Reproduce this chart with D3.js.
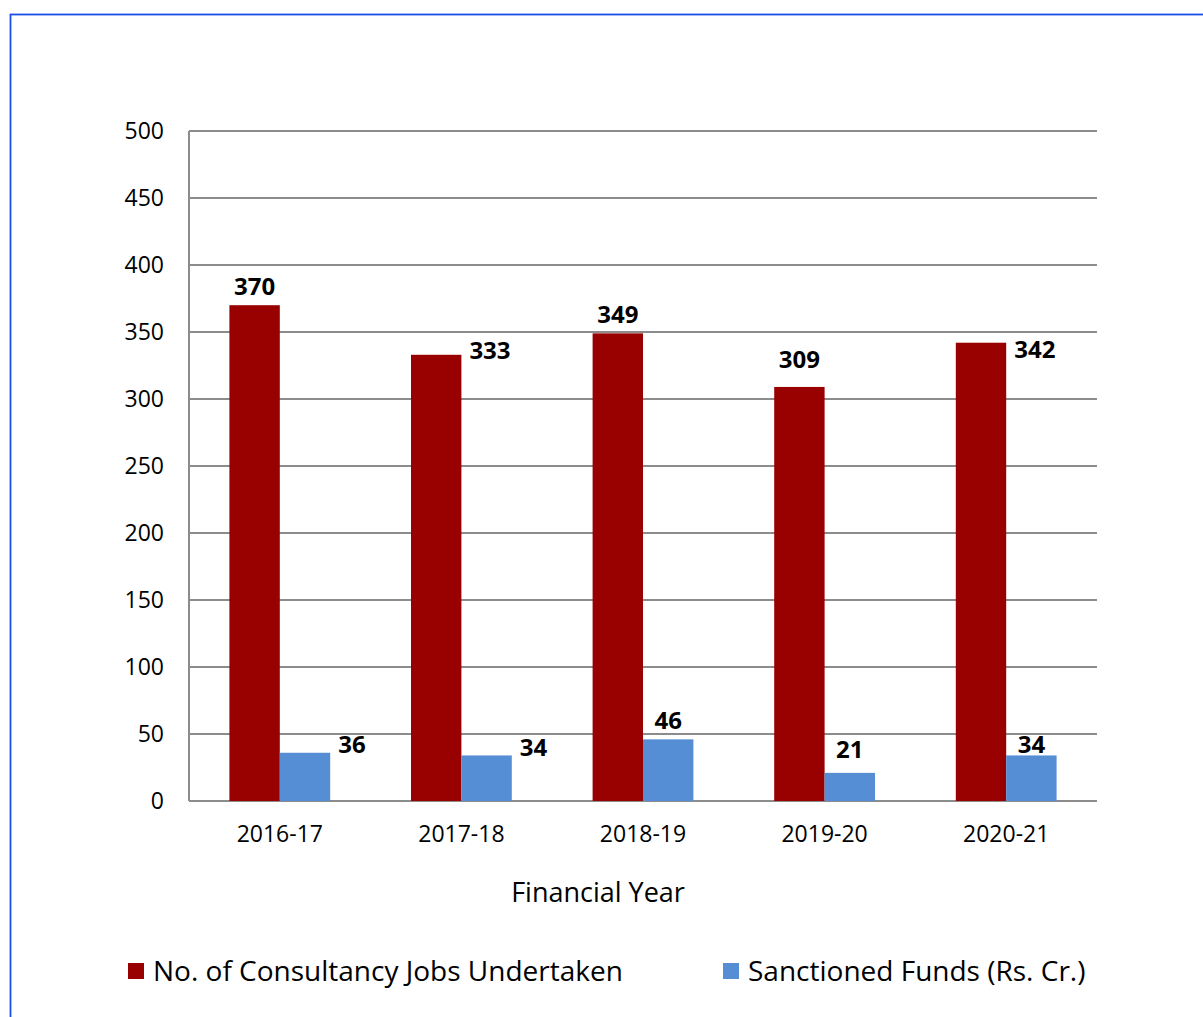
<!doctype html>
<html>
	<head>
		<script src="https://d3js.org/d3.v7.min.js"></script>
		<style>
			body { margin: 0; background: #fff; }
			text { font-family: "Open Sans", "Noto Sans", sans-serif; fill: #000; }
		</style>
	</head>
	<body>
		<div id="chart"></div>
		<script>
            const years = ["2016-17", "2017-18", "2018-19", "2019-20", "2020-21"];
            const jobs = [370, 333, 349, 309, 342];
            const funds = [36, 34, 46, 21, 34];
            const yTicks = [0, 50, 100, 150, 200, 250, 300, 350, 400, 450, 500];
            const seriesNames = ["No. of Consultancy Jobs Undertaken", "Sanctioned Funds (Rs. Cr.)"];
            const colors = ["#990000", "#558ed5"];
            // where each value label sits: "top" above the bar, "right" beside its top,
            // plus a small vertical nudge (px) as placed in the original
            const jobsLabelPos = ["top", "right", "top", "top", "right"];
            const fundsLabelPos = ["right", "right", "top", "top", "top"];
            const jobsLabelNudge = [-19, -4, -19, -27, 7];
            const fundsLabelNudge = [-8, -8, -19, -23, -11];

            const width = 1203, height = 1017;
            const plotLeft = 189, plotRight = 1097, plotTop = 131, plotBottom = 801;

            const svg = d3.select("#chart")
                .append("svg")
                .attr("width", width)
                .attr("height", height);

            // outer frame
            svg.append("rect")
                .attr("x", 10.5)
                .attr("y", 14.5)
                .attr("width", 1300)
                .attr("height", 1100)
                .attr("fill", "none")
                .attr("stroke", "#1a4fe6")
                .attr("stroke-width", 1.8);

            const x = d3.scaleBand().domain(years).range([plotLeft, plotRight]).paddingInner(0.445).paddingOuter(0.2225);
            const y = d3.scaleLinear().domain([0, 500]).range([plotBottom, plotTop]);
            const sub = d3.scaleBand().domain([0, 1]).range([0, x.bandwidth()]);

            svg.selectAll("line.grid")
                .data(yTicks)
                .enter().append("line")
                .attr("class", "grid")
                .attr("x1", plotLeft)
                .attr("x2", plotRight)
                .attr("y1", function (d) { return y(d); })
                .attr("y2", function (d) { return y(d); })
                .attr("stroke", "#8c8c8c")
                .attr("stroke-width", 2);

            svg.append("line")
                .attr("x1", plotLeft)
                .attr("x2", plotLeft)
                .attr("y1", plotTop)
                .attr("y2", plotBottom)
                .attr("stroke", "#8c8c8c")
                .attr("stroke-width", 2);

            svg.selectAll("text.ytick")
                .data(yTicks)
                .enter().append("text")
                .attr("class", "ytick")
                .attr("x", 164)
                .attr("y", function (d) { return y(d); })
                .attr("dy", "0.35em")
                .attr("text-anchor", "end")
                .attr("font-size", 23)
                .text(String);

            svg.selectAll("text.xtick")
                .data(years)
                .enter().append("text")
                .attr("class", "xtick")
                .attr("x", function (d) { return x(d) + x.bandwidth() / 2; })
                .attr("y", 834)
                .attr("dy", "0.35em")
                .attr("text-anchor", "middle")
                .attr("font-size", 23)
                .text(String);

            const series = [jobs, funds];
            const labelPos = [jobsLabelPos, fundsLabelPos];
            const labelNudge = [jobsLabelNudge, fundsLabelNudge];

            series.forEach(function (vals, s) {
                svg.selectAll("rect.s" + s)
                    .data(vals)
                    .enter().append("rect")
                    .attr("class", "s" + s)
                    .attr("x", function (d, i) { return x(years[i]) + sub(s); })
                    .attr("y", function (d) { return y(d); })
                    .attr("width", sub.bandwidth())
                    .attr("height", function (d) { return y(0) - y(d); })
                    .attr("fill", colors[s]);

                svg.selectAll("text.l" + s)
                    .data(vals)
                    .enter().append("text")
                    .attr("class", "l" + s)
                    .attr("x", function (d, i) {
                        const bx = x(years[i]) + sub(s);
                        return labelPos[s][i] === "right" ? bx + sub.bandwidth() + 8 : bx + sub.bandwidth() / 2;
                    })
                    .attr("y", function (d, i) { return y(d) + labelNudge[s][i]; })
                    .attr("dy", "0.35em")
                    .attr("text-anchor", function (d, i) { return labelPos[s][i] === "right" ? "start" : "middle"; })
                    .attr("font-size", 24)
                    .attr("font-weight", "bold")
                    .text(String);
            });

            svg.append("text")
                .attr("x", 598)
                .attr("y", 893)
                .attr("dy", "0.35em")
                .attr("text-anchor", "middle")
                .attr("font-size", 27)
                .text("Financial Year");

            const legendX = [128, 723];
            seriesNames.forEach(function (name, s) {
                svg.append("rect")
                    .attr("x", legendX[s])
                    .attr("y", 963)
                    .attr("width", 16)
                    .attr("height", 16)
                    .attr("fill", colors[s]);
                svg.append("text")
                    .attr("x", legendX[s] + 25)
                    .attr("y", 971)
                    .attr("dy", "0.35em")
                    .attr("font-size", 28)
                    .text(name);
            });
		</script>
	</body>
</html>
